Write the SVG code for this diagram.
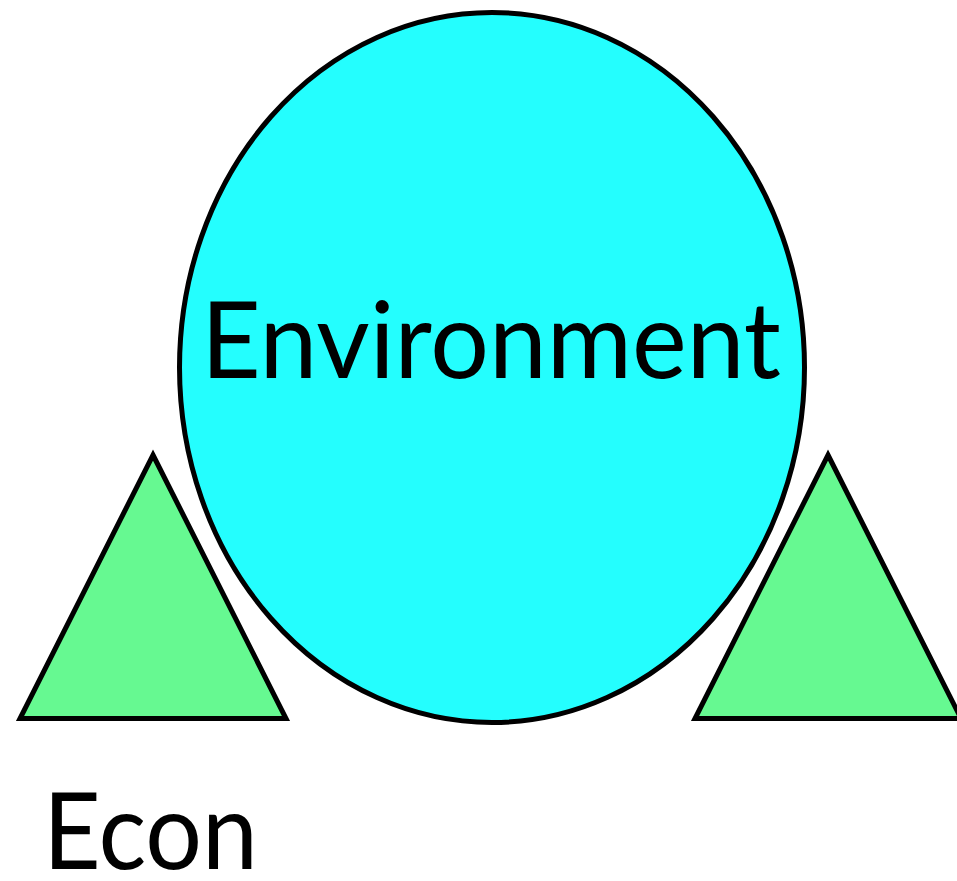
<svg xmlns="http://www.w3.org/2000/svg" width="957" height="881" viewBox="0 0 957 881">
  <style>
    .shape { stroke: #000; stroke-width: 5; stroke-linejoin: miter; }
    .env { fill: #24FEFE; }
    .tri { fill: #66F991; }
    .label { font-family: Lato, "Open Sans", "Liberation Sans", sans-serif; font-size: 106px; fill: #000; }
  </style>
  <rect width="957" height="881" fill="#fff"/>
  <g id="environment">
    <ellipse class="shape env" cx="492" cy="367.5" rx="312.5" ry="355"/>
    <text class="label" x="201" y="378" textLength="580" lengthAdjust="spacingAndGlyphs">Environment</text>
  </g>
  <g id="left-triangle">
    <polygon class="shape tri" points="153,455 286,718.5 20,718.5"/>
  </g>
  <g id="right-triangle">
    <polygon class="shape tri" points="828,455 961,718.5 695,718.5"/>
  </g>
  <g id="econ">
    <text class="label" x="43" y="869" textLength="215" lengthAdjust="spacingAndGlyphs">Econ</text>
  </g>
  <g id="connectors"/>
</svg>
